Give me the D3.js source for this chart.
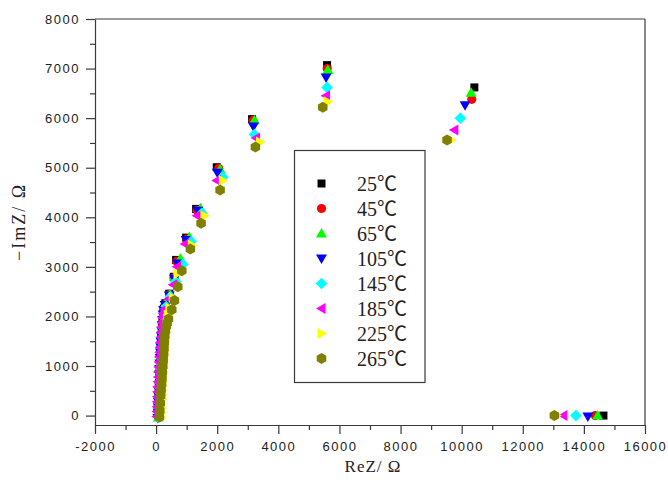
<!DOCTYPE html>
<html><head><meta charset="utf-8">
<script src="https://cdn.jsdelivr.net/npm/d3@7"></script>
<style>
html,body{margin:0;padding:0;background:#fff;}
svg{display:block;}
</style></head>
<body>
<svg id="chart" width="668" height="485"></svg>
<script>
// ---------- data ----------
const temps = ["25℃","45℃","65℃","105℃","145℃","185℃","225℃","265℃"];
const colors = ["#000000","#ff0000","#00ff00","#0000ff","#00ffff","#ff00ff","#ffff00","#808000"];
const xTicks = [-2000,0,2000,4000,6000,8000,10000,12000,14000,16000];
const yTicks = [0,1000,2000,3000,4000,5000,6000,7000,8000];

const s25 = [[70,-20],[74,90],[79,200],[84,310],[90,420],[96,530],[102,640],[109,750],[116,860],[124,970],[132,1080],[141,1190],[150,1300],[160,1410],[170,1520],[181,1630],[193,1740],[206,1850],[220,1960],[236,2070],[254,2160],
  [300,2266],[430,2460],[579,2800],[654,3140],[982,3590],[1309,4170],[1985,5010],[3141,5980],[5596,7070],[10416,6620],[14640,0]];
const s45 = [[72,-30],[76,80],[81,190],[86,300],[92,410],[98,520],[104,630],[111,740],[118,850],[126,960],[134,1070],[143,1180],[152,1290],[162,1400],[172,1510],[183,1620],[195,1730],[208,1840],[222,1950],[238,2060],[256,2150],
  [305,2250],[440,2440],[590,2780],[680,3110],[1000,3560],[1340,4140],[2050,4990],[3170,5950],[5600,7000],[10331,6380],[14370,0]];
const s65 = [[74,-40],[78,70],[83,180],[88,290],[94,400],[100,510],[106,620],[113,730],[120,840],[128,950],[136,1060],[145,1170],[154,1280],[164,1390],[174,1500],[185,1610],[197,1720],[210,1830],[224,1940],[240,2050],[258,2150],
  [310,2260],[450,2450],[610,2800],[795,3170],[1090,3600],[1450,4180],[2094,4970],[3217,5960],[5619,6970],[10308,6510],[14450,0]];
const s105 = [[60,-50],[65,60],[70,170],[76,280],[82,390],[88,500],[95,610],[102,720],[109,830],[117,940],[125,1050],[134,1160],[143,1270],[153,1380],[163,1490],[174,1600],[186,1710],[199,1820],[213,1930],[229,2040],[247,2130],
  [295,2230],[430,2420],[600,2760],[710,3070],[982,3540],[1364,4130],[2006,4900],[3184,5830],[5563,6820],[10111,6260],[14130,-20]];
const s145 = [[80,-30],[84,70],[89,170],[94,270],[100,370],[106,470],[113,570],[120,670],[128,770],[136,870],[145,970],[154,1070],[164,1170],[174,1270],[185,1370],[197,1470],[210,1570],[224,1670],[239,1770],[255,1870],[273,1970],[293,2070],
  [330,2200],[470,2400],[640,2700],[874,3050],[1145,3510],[1495,4080],[2182,4810],[3217,5670],[5596,6620],[9958,6000],[13740,0]];
const s185 = [[20,-20],[25,80],[30,180],[36,280],[42,380],[48,480],[55,580],[62,680],[70,780],[78,880],[87,980],[96,1080],[106,1180],[117,1280],[128,1380],[140,1480],[153,1580],[167,1680],[182,1780],[198,1880],[216,1980],[236,2060],
  [275,2150],[420,2350],[560,2640],[687,3000],[949,3460],[1342,4030],[1985,4740],[3272,5600],[5563,6450],[9761,5760],[13330,0]];
const s225 = [[170,-30],[174,60],[178,150],[183,240],[188,330],[193,420],[199,510],[205,600],[211,690],[218,780],[225,870],[233,960],[241,1050],[250,1140],[259,1230],[269,1320],[280,1410],[291,1500],[303,1590],[316,1680],[330,1770],[345,1860],[362,1950],[382,2030],
  [430,2170],[545,2380],[700,2860],[1168,3440],[1580,4030],[2182,4740],[3403,5520],[5619,6330],[9653,5560],[13100,0]];
const s265 = [[108,-30],[120,100],[135,250],[150,400],[164,520],[178,640],[192,760],[205,880],[219,1000],[232,1120],[245,1240],[258,1360],[270,1480],[285,1600],[305,1710],[330,1800],[360,1870],[403,1950],
  [513,2135],[600,2320],[710,2600],[841,2920],[1122,3360],[1472,3880],[2094,4550],[3250,5420],[5455,6220],[9522,5560],[13035,0]];
const seriesData = [s25,s45,s65,s105,s145,s185,s225,s265];

// ---------- layout ----------
const svg = d3.select("#chart");
const L = 95, R = 645, T = 19, B = 425;
const x = d3.scaleLinear().domain([-2000,16000]).range([L,R]);
const y = d3.scaleLinear().domain([-190,8000]).range([B,T]);
const axisColor = "#3a3a3a";

// ---------- symbols ----------
function poly(pts){ return { draw(ctx){ ctx.moveTo(pts[0][0],pts[0][1]); for(let i=1;i<pts.length;i++) ctx.lineTo(pts[i][0],pts[i][1]); ctx.closePath(); } }; }
const hex = d3.range(6).map(k=>{const a=(-90+60*k)*Math.PI/180; return [5.5*Math.cos(a),5.5*Math.sin(a)];});
const shapes = [
  poly([[-4,-4],[4,-4],[4,4],[-4,4]]),
  d3.symbolCircle,
  poly([[0,-5.5],[5.5,4],[-5.5,4]]),
  poly([[0,5.5],[5.5,-4],[-5.5,-4]]),
  poly([[0,-5.8],[5.8,0],[0,5.8],[-5.8,0]]),
  poly([[-5.5,0],[4,-5.5],[4,5.5]]),
  poly([[5.5,0],[-4,-5.5],[-4,5.5]]),
  poly(hex)
];
const sym = i => d3.symbol().type(shapes[i]).size(i===1?66:64)();

// ---------- axes ----------
const tickFont = "'Liberation Sans', Arial, sans-serif";
const xMinor = d3.range(-1000,16000,2000);
const yMinor = d3.range(500,8000,1000);

const gx = svg.append("g").attr("transform",`translate(0,${B})`)
  .call(d3.axisBottom(x).tickValues(xTicks).tickSize(9).tickSizeOuter(0).tickPadding(8).tickFormat(d=>String(d)));
const gxm = svg.append("g").attr("transform",`translate(0,${B})`)
  .call(d3.axisBottom(x).tickValues(xMinor).tickSize(5).tickSizeOuter(0).tickFormat(""));
const gy = svg.append("g").attr("transform",`translate(${L},0)`)
  .call(d3.axisLeft(y).tickValues(yTicks).tickSize(9).tickSizeOuter(0).tickPadding(6).tickFormat(d=>String(d)));
const gym = svg.append("g").attr("transform",`translate(${L},0)`)
  .call(d3.axisLeft(y).tickValues(yMinor).tickSize(5).tickSizeOuter(0).tickFormat(""));
[gx,gxm,gy,gym].forEach(g=>{
  g.selectAll("path.domain").attr("stroke",axisColor).attr("stroke-width",1.2);
  g.selectAll("line").attr("stroke",axisColor).attr("stroke-width",1.2);
  g.selectAll("text").attr("fill","#222").style("font-family",tickFont).style("font-size","13px").style("letter-spacing","1.5px");
});
gym.select("path.domain").remove(); gxm.select("path.domain").remove();
// frame top/right
svg.append("line").attr("x1",x(-2000)).attr("x2",x(16000)).attr("y1",y(8000)).attr("y2",y(8000)).attr("stroke",axisColor).attr("stroke-width",1.2);
svg.append("line").attr("x1",x(16000)).attr("x2",x(16000)).attr("y1",y(8000)).attr("y2",y(-190)).attr("stroke",axisColor).attr("stroke-width",1.2);

// axis titles
const titleFont = "'Liberation Serif', 'DejaVu Serif', 'Noto Sans CJK SC', serif";
svg.append("text").attr("x",373).attr("y",472).attr("text-anchor","middle")
  .style("font-family",titleFont).style("font-size","17px").style("letter-spacing","1px").attr("fill","#222").text("ReZ/ Ω");
svg.append("text").attr("transform","translate(25,222) rotate(-90)").attr("text-anchor","middle")
  .style("font-family",titleFont).style("font-size","18px").style("letter-spacing","2px").attr("fill","#222").text("−ImZ/ Ω");

// ---------- points ----------
const plot = svg.append("g");
seriesData.forEach((data,i)=>{
  plot.append("g").selectAll("path").data(data).join("path")
    .attr("d",sym(i))
    .attr("transform",d=>`translate(${x(d[0])},${y(d[1])})`)
    .attr("fill",colors[i]);
});

// ---------- legend ----------
const lg = svg.append("g");
lg.append("rect").attr("x",294.5).attr("y",150.5).attr("width",130.5).attr("height",232)
  .attr("fill","#fff").attr("stroke",axisColor).attr("stroke-width",1.2);
temps.forEach((t,i)=>{
  const cy = 183.5 + i*25;
  lg.append("path").attr("d",sym(i)).attr("transform",`translate(321.5,${cy})`).attr("fill",colors[i]);
  lg.append("text").attr("x",357).attr("y",cy).attr("dy","0.36em")
    .style("font-family","'Liberation Serif', 'Noto Sans CJK SC', serif").style("font-size","20px")
    .attr("fill","#222").text(t);
});
</script>
</body></html>
